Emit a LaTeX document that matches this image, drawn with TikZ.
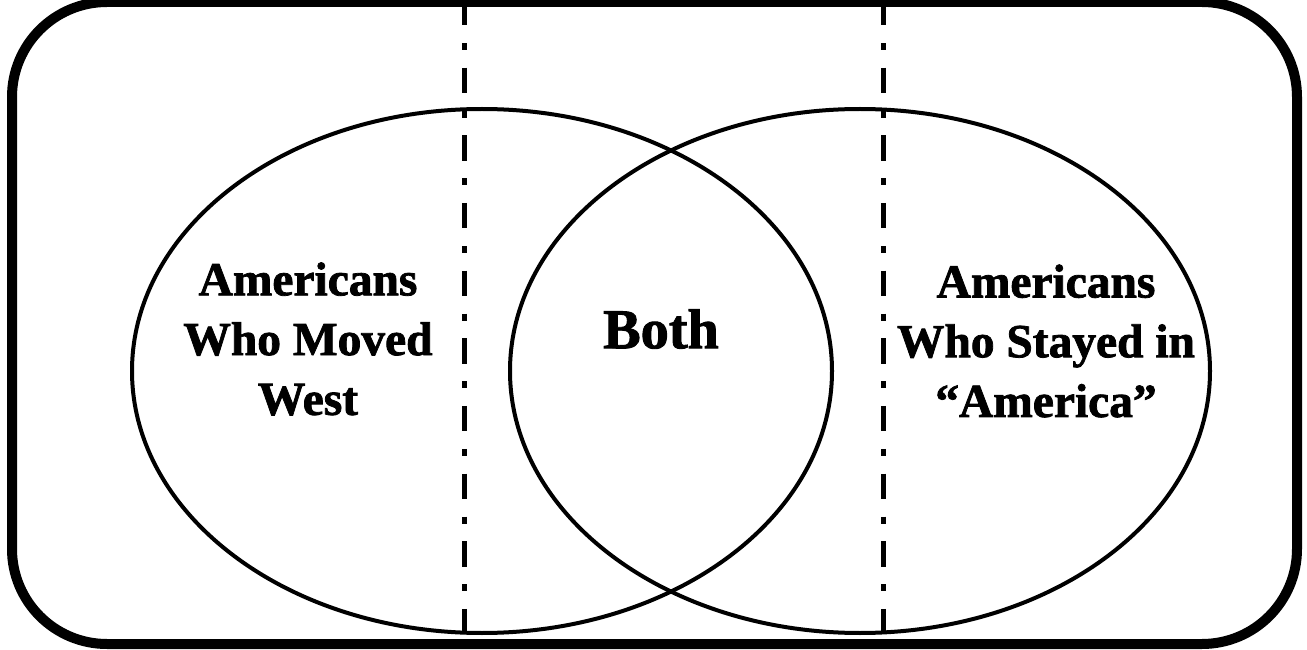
\documentclass[tikz,border=0pt]{standalone}
\usepackage{fontspec}
\setmainfont{Liberation Serif}[BoldFeatures={FakeBold=1.6}]
\usetikzlibrary{shapes.geometric}
\tikzset{
  frame/.style = {
    draw=black, line width=0.2cm, rounded corners=1.9cm
  },
  group/.style = {
    ellipse, draw=black, line width=0.08cm,
    minimum width=14cm, minimum height=10.48cm, inner sep=0pt
  },
  label/.style = {
    align=center, inner sep=0pt,
    font=\fontsize{27}{34}\selectfont\bfseries
  },
  divider/.style = {
    draw=black, line width=0.1cm,
    dash pattern=on 14.5pt off 10pt on 4pt off 10pt
  }
}

\begin{document}
\begin{tikzpicture}

    \useasboundingbox (0,0) rectangle (26.14,12.98);

    % ------------------------------------------------------------- Frame
    \draw [frame] (0.24,0.10) rectangle (25.94,12.94);

    % ------------------------------------------------------------ Groups
    \node [group] (moved)  at ( 9.64, 5.56) {};
    \node [group] (stayed) at (17.20, 5.56) {};

    % ------------------------------------------------------------ Labels
    \node [label] (moved_txt)  at ( 6.16, 6.20) {Americans\\Who Moved\\West};
    \node [label, font=\fontsize{32}{38}\selectfont\bfseries]
          (both_txt)   at (13.22, 6.40) {Both};
    \node [label] (stayed_txt) at (20.92, 6.16) {Americans\\Who Stayed in\\``America''};

    % ---------------------------------------------------------- Dividers
    \coordinate (div_l_top) at ( 9.28, 12.98);
    \coordinate (div_l_bot) at ( 9.28,  0.00);
    \coordinate (div_r_top) at (17.66, 12.98);
    \coordinate (div_r_bot) at (17.66,  0.00);

    \draw [divider] (div_l_top) -- (div_l_bot);
    \draw [divider] (div_r_top) -- (div_r_bot);

\end{tikzpicture}
\end{document}
